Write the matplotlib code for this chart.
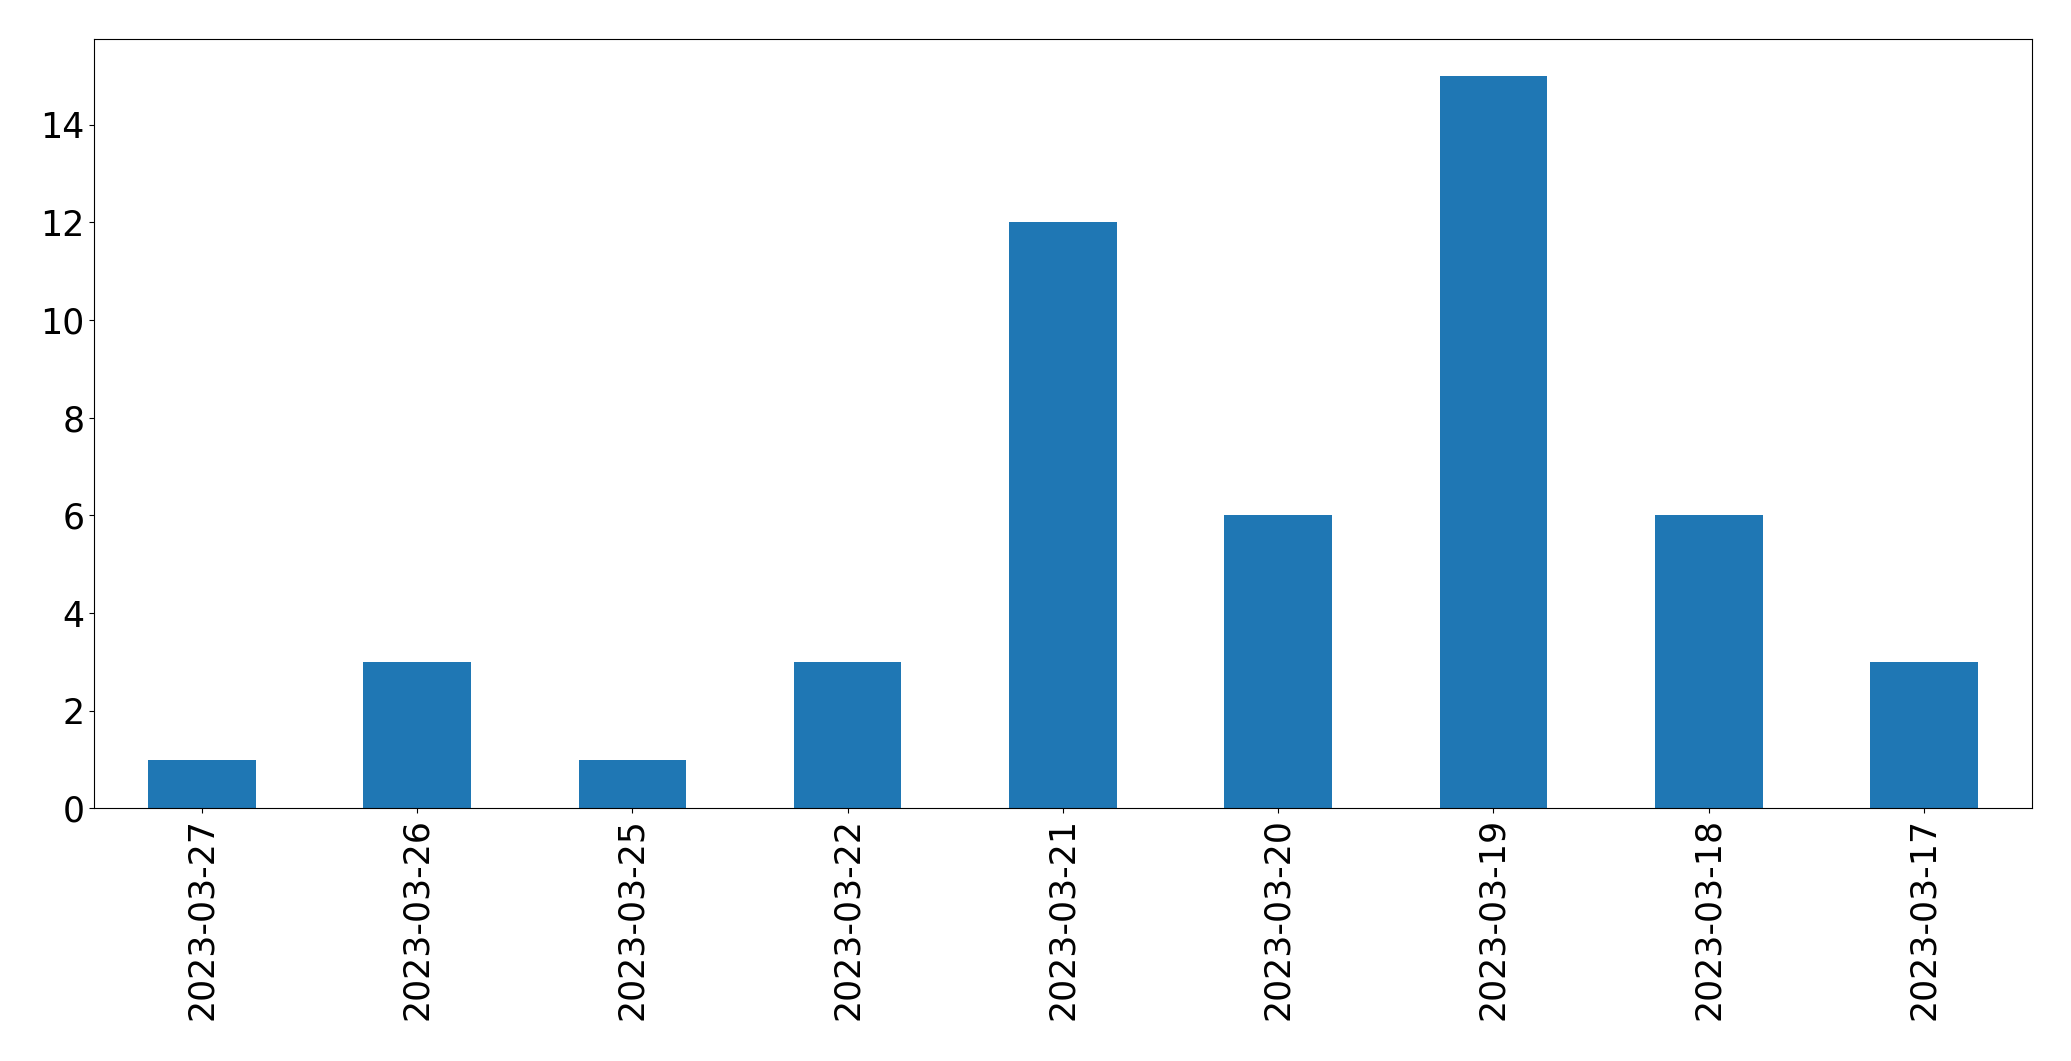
import matplotlib
matplotlib.use("Agg")
import matplotlib.pyplot as plt
import numpy as np

dates = ['2023-03-27', '2023-03-26', '2023-03-25', '2023-03-22', '2023-03-21',
         '2023-03-20', '2023-03-19', '2023-03-18', '2023-03-17']
counts = [1, 3, 1, 3, 12, 6, 15, 6, 3]

fig, ax = plt.subplots(figsize=(20.71, 10.61), dpi=100)
x = np.arange(len(dates))
ax.bar(x, counts, width=0.5, color='#1f77b4')
ax.set_xticks(x)
ax.set_xticklabels(dates, rotation=90)
ax.set_xlim(-0.5, len(dates) - 0.5)
ax.tick_params(axis='both', labelsize=25)
fig.subplots_adjust(left=0.0455, right=0.981, top=0.963, bottom=0.238)
fig.savefig('out.png', dpi=100)
